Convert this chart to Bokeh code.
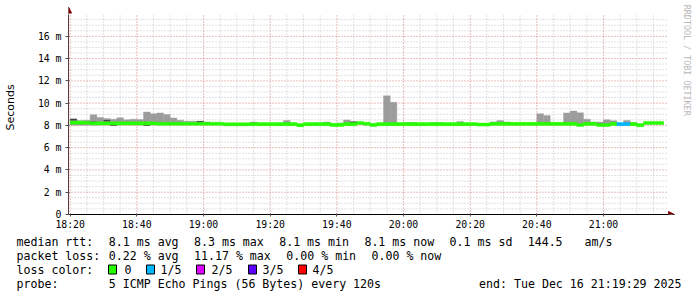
from math import pi
from bokeh.plotting import figure
from bokeh.layouts import column
from bokeh.models import (FixedTicker, Label, Arrow, NormalHead, ColumnDataSource)
from bokeh.core.properties import value
from bokeh.embed import file_html
from bokeh.resources import INLINE

# ---------------- data ----------------
first_step = 1100          # 18:20, minutes after midnight
step_len = 2               # 120 s steps
n_steps = 89
times = [first_step + step_len * i for i in range(n_steps)]

median = [8.25, 8.25, 8.24,
          8.18, 8.18, 8.18, 8.18, 8.18, 8.18, 8.18, 8.18, 8.18, 8.18,
          8.15, 8.15, 8.15, 8.15, 8.15, 8.15, 8.15, 8.15, 8.15, 8.15,
          8.10, 8.10, 8.10, 8.10,
          8.12, 8.12, 8.12, 8.12, 8.12, 8.12, 8.12,
          8.02,
          8.12, 8.12, 8.12, 8.12,
          8.05, 8.05,
          8.12, 8.12,
          8.22,
          8.15,
          8.05,
          8.12, 8.12, 8.12, 8.12, 8.12, 8.12, 8.12, 8.12, 8.12, 8.12,
          8.12, 8.12, 8.12, 8.12, 8.12,
          8.08, 8.08,
          8.14, 8.14, 8.14, 8.14, 8.14, 8.14, 8.14, 8.14, 8.14, 8.14,
          8.14, 8.14, 8.14,
          8.04,
          8.14, 8.14,
          8.04, 8.04,
          8.14,
          8.12, 8.12,
          8.12,
          8.02,
          8.22, 8.22, 8.22]

smoke_max = [8.58, 8.43, 8.46, 8.95, 8.72, 8.62, 8.55, 8.68, 8.50, 8.55,
             8.52, 9.20, 9.05, 9.12, 8.97, 8.67, 8.46, 8.37, 8.37, 8.37,
             8.31, 8.22, 8.20, 8.15, 8.15, 8.15, 8.15, 8.31, 8.17, 8.17,
             8.17, 8.22, 8.43, 8.22, 8.10, 8.17, 8.22, 8.22, 8.31, 8.12,
             8.22, 8.49, 8.31, 8.25, 8.20, 8.12, 8.17, 10.66, 10.07, 8.17,
             8.25, 8.25, 8.17, 8.17, 8.25, 8.25, 8.17, 8.17, 8.34, 8.17,
             8.17, 8.14, 8.14, 8.31, 8.43, 8.31, 8.20, 8.20, 8.20, 8.20,
             9.05, 8.88, 8.20, 8.20, 9.12, 9.29, 9.13, 8.55, 8.30, 8.30,
             8.50, 8.42, 8.17, 8.43, 8.26, 8.10, 8.28, 8.28, 8.28]

smoke_min = [8.02, 8.02, 8.02, 8.02, 8.03, 8.03, 8.02, 8.03, 8.03, 8.03,
             8.03, 8.02, 8.03, 8.03, 8.04, 8.05, 8.05, 8.05, 8.05, 8.05,
             8.05, 8.05, 8.05, 8.00, 8.00, 8.00, 8.00, 8.02, 8.02, 8.02,
             8.02, 8.02, 8.02, 8.02, 7.92, 8.02, 8.02, 8.02, 8.02, 7.95,
             7.95, 8.02, 8.02, 8.12, 8.05, 7.95, 8.02, 8.02, 8.02, 8.02,
             8.02, 8.02, 8.02, 8.02, 8.02, 8.02, 8.02, 8.02, 8.02, 8.02,
             8.02, 7.98, 7.98, 8.04, 8.04, 8.04, 8.04, 8.04, 8.04, 8.04,
             8.04, 8.04, 8.04, 8.04, 8.04, 8.04, 7.94, 8.04, 8.04, 7.94,
             7.94, 8.04, 8.02, 8.02, 8.02, 7.92, 8.12, 8.12, 8.12]

# lost pings (out of 5) per step
loss = [0] * 82 + [1, 1] + [0] * 5

# inner (2nd..4th ping) smoke band, where visible
dark_steps = [0, 3, 5, 6, 11, 19, 42]
dark_vals = [8.52, 8.28, 8.42, 8.05, 8.05, 8.33, 8.27]

loss_labels = ["0", "1/5", "2/5", "3/5", "4/5"]
loss_colors = ["#26ff00", "#00b8ff", "#dd00ff", "#5e00ff", "#ff0000"]

x_ticks = [1100, 1120, 1140, 1160, 1180, 1200, 1220, 1240, 1260]
x_tick_labels = ["18:20", "18:40", "19:00", "19:20", "19:40", "20:00",
                 "20:20", "20:40", "21:00"]
y_ticks = [0, 2, 4, 6, 8, 10, 12, 14, 16]
y_tick_labels = ["0", "2 m", "4 m", "6 m", "8 m", "10 m", "12 m", "14 m", "16 m"]

stat_line1 = ["median rtt:", "8.1 ms avg", "8.3 ms max", "8.1 ms min",
              "8.1 ms now", "0.1 ms sd", "144.5", "am/s"]
stat_line2 = ["packet loss:", "0.22 % avg", "11.17 % max", "0.00 % min",
              "0.00 % now"]
probe_text = ["probe:", "5 ICMP Echo Pings (56 Bytes) every 120s",
              "end: Tue Dec 16 21:19:29 2025"]
credit = "RRDTOOL / TOBI OETIKER"

# ---------------- geometry (canvas pixels) ----------------
W = 697
FL, FB, FT_DATA = 67, 215, 13.6        # frame left, x-axis y, y of 18 ms
AXIS_H = 17
TOP_H = FB + AXIS_H                    # height of the chart figure
X0, X1 = 1099.5, 1279.5                # time span drawn
PX_X = (668 - FL) / (X1 - X0)          # px per minute
Y_TOP = 18.0
PX_Y = (FB - FT_DATA) / Y_TOP          # px per ms

x_end = X0 + (W - FL) / PX_X
y_end = FB / PX_Y

mono = "DejaVu Sans Mono"

p = figure(width=W, height=TOP_H, x_range=(X0, x_end), y_range=(0, y_end),
           output_backend="svg", toolbar_location=None,
           min_border_left=FL, min_border_right=0, min_border_top=0,
           min_border_bottom=AXIS_H)
p.frame_align = False
p.background_fill_color = "white"
p.border_fill_color = "white"
p.outline_line_color = None
p.xgrid.visible = False
p.ygrid.visible = False

p.xaxis.ticker = FixedTicker(ticks=x_ticks)
p.yaxis.ticker = FixedTicker(ticks=y_ticks)
p.xaxis.major_label_overrides = dict(zip(x_ticks, x_tick_labels))
p.yaxis.major_label_overrides = dict(zip(y_ticks, y_tick_labels))
p.xaxis.bounds = (X0 - 1.5, X1)
p.yaxis.bounds = (-0.2, Y_TOP)

for ax in (p.xaxis, p.yaxis):
    ax.major_label_text_font = mono
    ax.major_label_text_font_size = "9.8px"
    ax.major_label_text_color = "black"
    ax.major_tick_out = 2
    ax.major_tick_in = 1
    ax.minor_tick_out = 0
    ax.minor_tick_in = 0
    ax.major_label_standoff = 2
    ax.major_tick_line_color = "#505050"
p.yaxis.major_tick_out = 3
p.yaxis.major_label_standoff = 4
p.xaxis.axis_line_color = "black"
p.yaxis.axis_line_color = "#5a3a3a"
p.yaxis.axis_label = "Seconds"
p.yaxis.axis_label_text_font = "DejaVu Sans"
p.yaxis.axis_label_text_font_size = "11px"
p.yaxis.axis_label_text_font_style = "normal"
p.yaxis.axis_label_text_color = "black"
p.yaxis.axis_label_standoff = 18

# ---- grid (drawn as dotted segments, limited to the graph area) ----
x_minor = [t for t in range(1100, 1280, 5) if t not in x_ticks]
y_minor = [v / 2 for v in range(1, 37) if v % 4 != 0]
maj_col, min_col = "#d77a7a", "#c4c4c4"
p.segment(x0=x_minor, x1=x_minor, y0=[0] * len(x_minor), y1=[Y_TOP] * len(x_minor),
          line_color=min_col, line_dash="1 2", line_width=1)
p.segment(x0=[X0] * len(y_minor), x1=[X1] * len(y_minor), y0=y_minor, y1=y_minor,
          line_color=min_col, line_dash="1 2", line_width=1)
p.segment(x0=x_ticks, x1=x_ticks, y0=[0] * len(x_ticks), y1=[Y_TOP] * len(x_ticks),
          line_color=maj_col, line_dash="1 2", line_width=1)
p.segment(x0=[X0] * len(y_ticks[1:]), x1=[X1] * len(y_ticks[1:]), y0=y_ticks[1:],
          y1=y_ticks[1:], line_color=maj_col, line_dash="1 2", line_width=1)

# ---- smoke and median ----
half = 0.14
src = ColumnDataSource(dict(
    left=times,
    right=[t + step_len for t in times],
    smin=smoke_min,
    smax=smoke_max,
    mlo=[m - half for m in median],
    mhi=[m + half for m in median],
    color=[loss_colors[l] for l in loss],
))
p.quad(left="left", right="right", bottom="smin", top="smax", source=src,
       fill_color="#9c9c9c", line_color="#9c9c9c", line_width=0.4)

dsrc = ColumnDataSource(dict(
    left=[times[i] for i in dark_steps],
    right=[times[i] + step_len for i in dark_steps],
    bottom=[v - 0.07 for v in dark_vals],
    top=[v + 0.07 for v in dark_vals],
))
p.quad(left="left", right="right", bottom="bottom", top="top", source=dsrc,
       fill_color="#454545", line_color=None)

p.quad(left="left", right="right", bottom="mlo", top="mhi", source=src,
       fill_color="color", line_color="color", line_width=0.4)

# ---- axis arrows ----
arrow_col = "#7f0000"
p.add_layout(Arrow(end=NormalHead(size=6, fill_color=arrow_col, line_color=arrow_col),
                   x_start=X1, y_start=0, x_end=X1 + 6 / PX_X, y_end=0,
                   line_color="black", line_width=1))
p.add_layout(Arrow(end=NormalHead(size=6, fill_color=arrow_col, line_color=arrow_col),
                   x_start=X0, y_start=Y_TOP, x_end=X0, y_end=Y_TOP + 7 / PX_Y,
                   line_color="#5a3a3a", line_width=1))

# ---- vertical credit on the right ----
p.add_layout(Label(x=X0 + (686 - FL) / PX_X, y=(FB - 60) / PX_Y, text=credit,
                   text_font=mono, text_font_size="8.4px", text_color="#b8b8b8",
                   text_align="center", text_baseline="middle", angle=-pi / 2))

# ---------------- legend strip below ----------------
LEG_H = 297 - TOP_H
q = figure(width=W, height=LEG_H, x_range=(0, W), y_range=(LEG_H, 0),
           output_backend="svg", toolbar_location=None,
           min_border=0, x_axis_location=None, y_axis_location=None)
q.frame_align = False
q.background_fill_color = "white"
q.border_fill_color = "white"
q.outline_line_color = None
q.xgrid.visible = False
q.ygrid.visible = False

CH = 7.1       # monospace advance in px
LX = 16        # left text margin
row_y = [241 - TOP_H, 255 - TOP_H, 269 - TOP_H, 283 - TOP_H]

tx, ty, tt = [], [], []
for t, c in zip(stat_line1, [0, 13, 25, 37, 49, 61, 72, 80]):
    tx.append(LX + c * CH); ty.append(row_y[0]); tt.append(t)
for t, c in zip(stat_line2, [0, 13, 25, 38, 50]):
    tx.append(LX + c * CH); ty.append(row_y[1]); tt.append(t)
tx.append(LX); ty.append(row_y[2]); tt.append("loss color:")
sq_x = [108, 146, 196, 248, 298]
lab_x = [124, 160, 211, 262, 312]
for lab, lx in zip(loss_labels, lab_x):
    tx.append(lx); ty.append(row_y[2]); tt.append(lab)
tx += [LX, LX + 13 * CH]; ty += [row_y[3], row_y[3]]; tt += probe_text[:2]

q.text(x=tx, y=ty, text=tt, text_font=value(mono), text_font_size="11.6px",
       text_color="black", text_align="left", text_baseline="middle")
q.text(x=[681], y=[row_y[3]], text=[probe_text[2]], text_font=value(mono),
       text_font_size="11.6px", text_color="black", text_align="right",
       text_baseline="middle")

q.quad(left=sq_x, right=[s + 8 for s in sq_x],
       top=[row_y[2] - 4.5] * 5, bottom=[row_y[2] + 4.5] * 5,
       fill_color=loss_colors, line_color="black", line_width=1)

open("out.html", "w").write(file_html(column(p, q, spacing=0), INLINE))
